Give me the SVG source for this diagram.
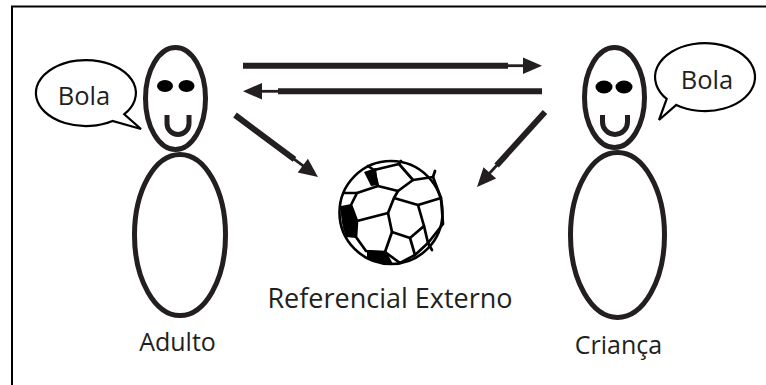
<svg xmlns="http://www.w3.org/2000/svg" width="766" height="385" viewBox="0 0 766 385">
  <style>
    .ink { fill: none; stroke: #231f20; stroke-width: 5; }
    .bubble { fill: #ffffff; stroke: #000000; stroke-width: 2.2; stroke-linejoin: miter; }
    .eye { fill: #000000; }
    .txt { font-family: "Open Sans", "Liberation Sans", sans-serif; fill: #231f20; }
    .shaft { stroke: #231f20; stroke-width: 6; stroke-linecap: butt; fill: none; }
    .neck { stroke: #231f20; stroke-width: 2.8; stroke-linecap: butt; fill: none; }
    .head { fill: #231f20; }
    .net { fill: none; stroke: #000000; stroke-width: 2.7; stroke-linejoin: round; stroke-linecap: round; }
    .patch { fill: #000000; }
  </style>

  <rect width="766" height="385" fill="#ffffff"/>

  <!-- frame: top and left edges only -->
  <g id="frame" stroke="#000000" stroke-width="2" fill="none">
    <line x1="11" y1="6.5" x2="766" y2="6.5"/>
    <line x1="12" y1="6" x2="12" y2="385"/>
  </g>

  <!-- adult figure with speech bubble -->
  <g id="adulto">
    <path class="bubble" d="M124.3,114.2 A50,33 0 1 0 112.5,121 L141,129 Z"/>
    <text class="txt" x="84" y="105" font-size="25.5" text-anchor="middle">Bola</text>
    <ellipse class="ink" cx="180" cy="235" rx="45.5" ry="80.5"/>
    <ellipse class="ink" cx="175.5" cy="98.5" rx="30" ry="51" fill="#ffffff"/>
    <ellipse class="eye" cx="165" cy="86" rx="8" ry="6"/>
    <ellipse class="eye" cx="186.5" cy="86" rx="8" ry="6"/>
    <path class="ink" d="M167,115 L167,123.5 A11,11 0 0 0 189,123.5 L189,115"/>
    <text class="txt" x="177.5" y="351" font-size="25" text-anchor="middle">Adulto</text>
  </g>

  <!-- child figure with speech bubble -->
  <g id="crianca">
    <path class="bubble" d="M666.7,98.9 A50,34 0 1 1 676.3,104.9 L659,120 Z"/>
    <text class="txt" x="707" y="89" font-size="25.5" text-anchor="middle">Bola</text>
    <ellipse class="ink" cx="617.5" cy="235" rx="47" ry="82.5"/>
    <ellipse class="ink" cx="614.5" cy="97.5" rx="30" ry="50" fill="#ffffff"/>
    <ellipse class="eye" cx="604" cy="87" rx="8.5" ry="6.5"/>
    <ellipse class="eye" cx="624" cy="87" rx="8.5" ry="6.5"/>
    <path class="ink" d="M602.5,115 L602.5,122 A12.5,12.5 0 0 0 627.5,122 L627.5,115"/>
    <text class="txt" x="618.5" y="354" font-size="25" text-anchor="middle">Criança</text>
  </g>

  <!-- external referent: the ball -->
  <g id="referencial">
    <circle cx="391" cy="212.5" r="51.5" fill="#ffffff" stroke="#000000" stroke-width="2.6"/>
    <!-- dark shaded patches at the rim -->
    <path class="patch" d="M364,172 L376,168 L378,185 L371,186 Z"/>
    <path class="patch" d="M341,206 L351,204 L357,221 L356,238 L346,237 Q340,222 341,206 Z"/>
    <path class="patch" d="M367,252 L386,251 L393,264 Q378,264 367,258 Z"/>
    <!-- panel seams -->
    <path class="net" d="M374,170 L399,164 L413,180 L398,191 L378,186 Z"/>
    <path class="net" d="M398,191 L394,198 L418,205 L424,226 L410,238 L392,232 L388,213 L394,198"/>
    <path class="net" d="M413,180 L433,177 L441,198 L418,205"/>
    <path class="net" d="M441,198 L443,224 L428,243 L424,226"/>
    <path class="net" d="M378,186 L357,193 L351,205 L357,221 L388,213"/>
    <path class="net" d="M357,221 L356,237 L366,251 L385,252 L392,232"/>
    <path class="net" d="M385,252 L400,263 L415,255 L410,238"/>
    <path class="net" d="M415,255 L428,243"/>
    <path class="net" d="M374,170 L368,166 M399,164 L401,161 M433,177 L435,171 M357,193 L344,193 M428,243 L432,250"/>
    <text class="txt" x="390" y="308" font-size="27" text-anchor="middle">Referencial Externo</text>
  </g>

  <!-- connectors -->
  <g id="connectors">
    <!-- adult to child -->
    <line class="shaft" x1="243" y1="65.7" x2="508" y2="65.7"/>
    <line class="neck" x1="506" y1="65.7" x2="524" y2="65.7"/>
    <polygon class="head" points="523,57.4 542,65.7 523,74"/>
    <!-- child to adult -->
    <line class="shaft" x1="542" y1="91.3" x2="278" y2="91.3"/>
    <line class="neck" x1="280" y1="91.3" x2="261" y2="91.3"/>
    <polygon class="head" points="262,83 243,91.3 262,99.6"/>
    <!-- adult to ball -->
    <line class="shaft" x1="235" y1="115" x2="294.5" y2="159.4"/>
    <line class="neck" x1="293" y1="158.3" x2="303.6" y2="166.2"/>
    <polygon class="head" points="297.7,172.4 318,177 307.9,158.8"/>
    <!-- child to ball -->
    <line class="shaft" x1="545" y1="112" x2="496.6" y2="165.5"/>
    <line class="neck" x1="497.8" y1="164.2" x2="489.2" y2="173.6"/>
    <polygon class="head" points="483.5,167.2 477,187 496.1,178.6"/>
  </g>
</svg>
